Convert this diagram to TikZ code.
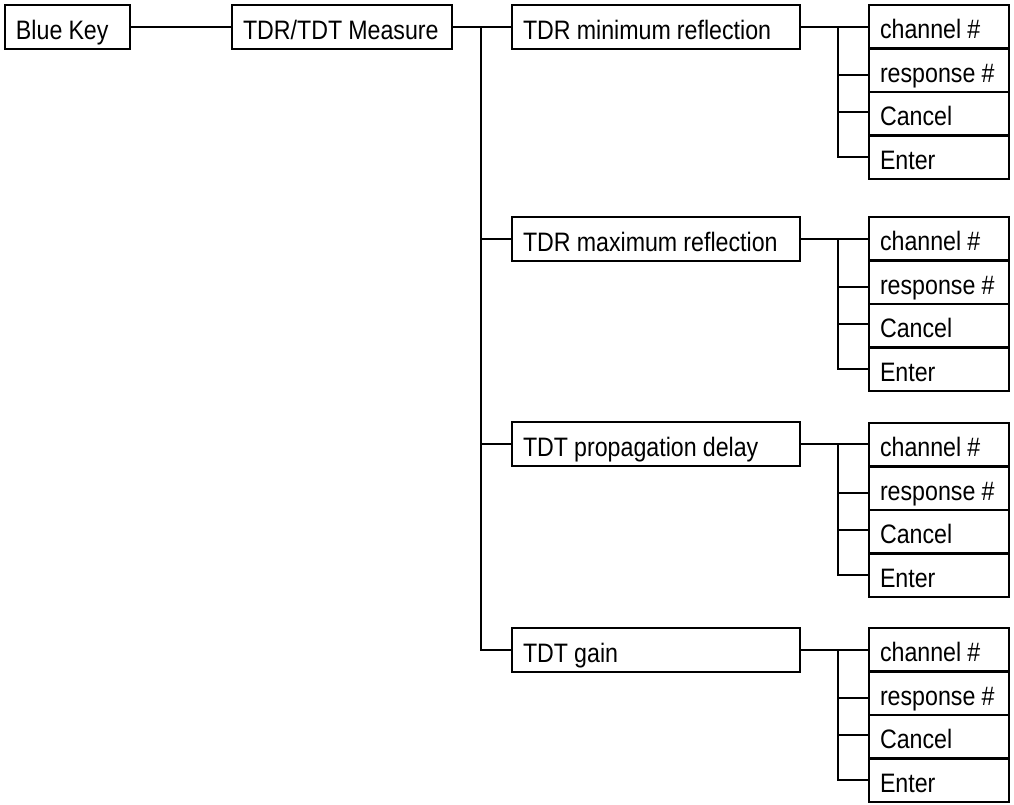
\documentclass[tikz,border=0pt]{standalone}
\usepackage{fontspec}
\setmainfont{Liberation Sans}[FakeStretch=0.87,WordSpace=0.95]
\usetikzlibrary{calc}
\newcommand\boxtxt[2]{\makebox[#1][l]{#2}}
\begin{document}
\begin{tikzpicture}[x=0.75pt,y=-0.75pt,
  box/.style={draw, line width=1.6pt, rectangle, inner xsep=8.25pt, inner ysep=0pt,
    minimum height=33pt, text height=18pt, text depth=0pt,
    font=\fontsize{20}{22}\selectfont},
  cbox/.style={box, minimum height=32.6pt},
  conn/.style={line width=1.6pt}]
\useasboundingbox (0,0) rectangle (1014,804);
\node[box] (blue) at (67.5,27) {\boxtxt{77.25pt}{Blue Key}};
\node[box] (meas) at (342,27) {\boxtxt{148.5pt}{TDR/TDT Measure}};
\node[box] (l1) at (656,27) {\boxtxt{199.5pt}{TDR minimum reflection}};
\node[box] (l2) at (656,239) {\boxtxt{199.5pt}{TDR maximum reflection}};
\node[box] (l3) at (656,444) {\boxtxt{199.5pt}{TDT propagation delay}};
\node[box] (l4) at (656,650) {\boxtxt{199.5pt}{TDT gain}};
\coordinate (trunk) at (481,0);
\draw[conn] (blue) -- (meas);
\draw[conn] (meas.east) -- (l1.west);
\draw[conn] (trunk |- meas.east) |- (l4.west);
\draw[conn] (trunk |- l2.west) -- (l2.west);
\draw[conn] (trunk |- l3.west) -- (l3.west);
\foreach \g/\t in {1/5,2/217,3/423,4/628}{
  \node[cbox] (c\g-1) at (939,{\t+21.75}) {\boxtxt{88.5pt}{channel \#}};
  \node[cbox] (c\g-2) at (939,{\t+65.25}) {\boxtxt{88.5pt}{response \#}};
  \node[cbox] (c\g-3) at (939,{\t+108.75}) {\boxtxt{88.5pt}{Cancel}};
  \node[cbox] (c\g-4) at (939,{\t+152.25}) {\boxtxt{88.5pt}{Enter}};
  \coordinate (s\g) at (838,0);
  \draw[conn] (l\g.east) -- (l\g.east -| c\g-1.west);
  \draw[conn] (s\g |- l\g.east) |- (c\g-4.west);
  \draw[conn] ([yshift=-3.75pt]c\g-2.west) -- ([yshift=-3.75pt]c\g-2.west -| s\g);
  \draw[conn] ([yshift=1.1pt]c\g-3.west) -- ([yshift=1.1pt]c\g-3.west -| s\g);
}
\end{tikzpicture}
\end{document}
